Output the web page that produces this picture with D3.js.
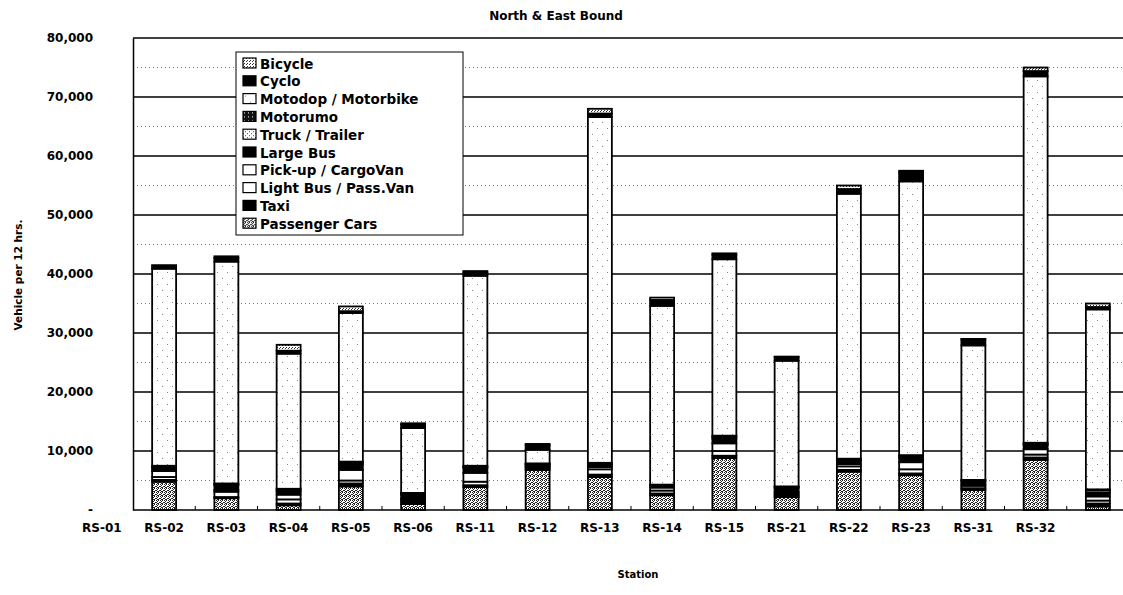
<!DOCTYPE html>
<html>
<head>
<meta charset="utf-8">
<script src="https://cdn.jsdelivr.net/npm/d3@7"></script>
<style>
  body { margin: 0; background: #fff; }
  text { font-family: "DejaVu Sans", Arial, sans-serif; font-weight: bold; fill: #000; }
</style>
</head>
<body>
<svg id="chart" width="1123" height="595"></svg>
<script>
// stations (x categories)
var stations = ["RS-01","RS-02","RS-03","RS-04","RS-05","RS-06","RS-11","RS-12",
                "RS-13","RS-14","RS-15","RS-21","RS-22","RS-23","RS-31","RS-32"];

// vehicle counts per 12 hrs
var passengerCars = [4800, 2000, 800, 4000, 1000, 3900, 6800, 5600, 2500, 8800, 2200, 6500, 5900, 3400, 8500, 600];
var taxi          = [ 300,  200, 300,  500,  400,  300,  300,  400,  300,  400,  300,  300,  300,  300,  400, 500];
var lightBus      = [ 500,  900, 700,  500,  300,  600,  200,  900,  500,  800,  300,  600,  700,  400,  500, 500];
var pickUp        = [1000,  300, 800, 1800,  300, 1500,  200,  400,  500, 1300,  300,  400, 1200,  300,  900, 700];
var largeBus      = [ 400,  800, 500,  900,  600,  800,  200,  300,  300,  800,  600,  500,  700,  400,  700, 600];
var truck         = [ 300,  200, 300,  300,  200,  200,  100,  200,  100,  300,  200,  200,  300,  200,  200, 400];
var motorumo      = [ 200,  100, 200,  200,  100,  200,  100,  200,  100,  200,  100,  200,  200,  100,  200, 200];
var motodop       = [33400, 37600, 22900, 25200, 11000, 32200, 2300, 58600, 30300, 29900, 21300, 44900, 46400, 22800, 62100, 30500];
var cyclo         = [ 400,  600, 500,  300,  600,  600,  800,  600, 1000,  800,  600,  800, 1500, 1000,  900, 400];
var bicycle       = [ 200,  300, 1000, 800,  200,  200,  200,  800,  400,  200,  100,  600,  300,  100,  600, 600];

var yTicks = [0, 10000, 20000, 30000, 40000, 50000, 60000, 70000, 80000];
var yMinor = [5000, 15000, 25000, 35000, 45000, 55000, 65000, 75000];

// bottom-up stacking order
var series = [
  {key: "Passenger Cars",       values: passengerCars, fill: "url(#pPc)"},
  {key: "Taxi",                 values: taxi,          fill: "#000"},
  {key: "Light Bus / Pass.Van", values: lightBus,      fill: "#fff"},
  {key: "Pick-up / CargoVan",   values: pickUp,        fill: "#fff"},
  {key: "Large Bus",            values: largeBus,      fill: "#000"},
  {key: "Truck / Trailer",      values: truck,         fill: "url(#pTruck)"},
  {key: "Motorumo",             values: motorumo,      fill: "url(#pMotorumo)"},
  {key: "Motodop / Motorbike",  values: motodop,       fill: "url(#pMotodop)"},
  {key: "Cyclo",                values: cyclo,         fill: "#000"},
  {key: "Bicycle",              values: bicycle,       fill: "url(#pBicycle)"}
];

var rows = stations.map(function(s, i) {
  var r = {station: s};
  series.forEach(function(d) { r[d.key] = d.values[i]; });
  return r;
});

var svg = d3.select("#chart");
var plotLeft = 133, plotRight = 1129, plotTop = 38, plotBottom = 510;

var x = d3.scaleBand().domain(stations).range([plotLeft, plotRight]).paddingInner(0.615).paddingOuter(0.3075);
var y = d3.scaleLinear().domain([0, 80000]).range([plotBottom, plotTop]);

//****************************PATTERNS***************************************************
var defs = svg.append("defs");
function pattern(id, w, h, bg, col, dots) {
  var p = defs.append("pattern").attr("id", id).attr("patternUnits", "userSpaceOnUse")
    .attr("width", w).attr("height", h);
  p.append("rect").attr("width", w).attr("height", h).attr("fill", bg);
  dots.forEach(function(d) {
    p.append("rect").attr("x", d[0]).attr("y", d[1]).attr("width", 1).attr("height", 1).attr("fill", col);
  });
}
pattern("pPc", 4, 4, "#fff", "#222", [[0,0],[2,0],[1,1],[3,2],[0,2],[2,3],[1,3]]);
pattern("pTruck", 4, 4, "#fff", "#444", [[0,0],[2,2]]);
pattern("pMotorumo", 4, 4, "#111", "#fff", [[1,1]]);
pattern("pMotodop", 10, 12, "#fff", "#888", [[2,2],[7,8]]);
pattern("pBicycle", 3, 3, "#fff", "#333", [[0,0],[1,2]]);

//****************************GRID***************************************************
svg.append("g").selectAll("line").data(yMinor).enter().append("line")
  .attr("x1", plotLeft).attr("x2", plotRight)
  .attr("y1", function(d) { return y(d); }).attr("y2", function(d) { return y(d); })
  .attr("stroke", "#777").attr("stroke-width", 1).attr("stroke-dasharray", "1,3");

svg.append("g").selectAll("line").data(yTicks.slice(1)).enter().append("line")
  .attr("x1", plotLeft).attr("x2", plotRight)
  .attr("y1", function(d) { return y(d); }).attr("y2", function(d) { return y(d); })
  .attr("stroke", "#000").attr("stroke-width", 1.5);

//****************************BARS***************************************************
var stack = d3.stack().keys(series.map(function(d) { return d.key; }));
var layers = stack(rows);

svg.append("g").selectAll("g").data(layers).enter().append("g")
  .attr("fill", function(d, i) { return series[i].fill; })
  .selectAll("rect").data(function(d) { return d; }).enter().append("rect")
  .attr("x", function(d) { return x(d.data.station); })
  .attr("width", x.bandwidth())
  .attr("y", function(d) { return y(d[1]); })
  .attr("height", function(d) { return y(d[0]) - y(d[1]); })
  .attr("stroke", "#000").attr("stroke-width", 1.8);

//****************************AXES***************************************************
var yAxis = d3.axisLeft(y).tickValues(yTicks).tickSize(0).tickPadding(40)
  .tickFormat(function(d) { return d === 0 ? "-" : d3.format(",")(d); });
var yg = svg.append("g").attr("transform", "translate(" + plotLeft + ",0)").call(yAxis);
yg.select(".domain").attr("stroke", "#000").attr("stroke-width", 1.5);
yg.selectAll("text").style("font-size", "12px").style("font-family", "DejaVu Sans").style("font-weight", "bold");

svg.append("line").attr("x1", plotLeft).attr("x2", plotRight).attr("y1", plotBottom).attr("y2", plotBottom)
  .attr("stroke", "#000").attr("stroke-width", 1.5);

// small ticks between stations
var step = x.step();
svg.append("g").selectAll("line").data(stations.slice(1)).enter().append("line")
  .attr("x1", function(d) { return x(d) - (step - x.bandwidth()) / 2; })
  .attr("x2", function(d) { return x(d) - (step - x.bandwidth()) / 2; })
  .attr("y1", plotBottom).attr("y2", plotBottom - 4)
  .attr("stroke", "#000").attr("stroke-width", 1);

// station labels (sit one slot to the left of their bars, as in the source)
svg.append("g").selectAll("text").data(stations).enter().append("text")
  .attr("x", function(d) { return x(d) + x.bandwidth() / 2 - step; })
  .attr("y", 532)
  .attr("text-anchor", "middle")
  .style("font-size", "12px")
  .text(function(d) { return d; });

//****************************TITLES***************************************************
svg.append("text").attr("x", 556).attr("y", 20).attr("text-anchor", "middle")
  .style("font-size", "12px").text("North & East Bound");

svg.append("text").attr("transform", "translate(22,275) rotate(-90)").attr("text-anchor", "middle")
  .style("font-size", "10.5px").text("Vehicle per 12 hrs.");

svg.append("text").attr("x", 638).attr("y", 578).attr("text-anchor", "middle")
  .style("font-size", "10px").text("Station");

//****************************LEGEND***************************************************
var legend = svg.append("g").attr("transform", "translate(236,52)");
legend.append("rect").attr("width", 227).attr("height", 183)
  .attr("fill", "#fff").attr("stroke", "#000").attr("stroke-width", 1);

var legendItems = series.slice().reverse();
var item = legend.selectAll("g.item").data(legendItems).enter().append("g")
  .attr("class", "item")
  .attr("transform", function(d, i) { return "translate(7," + (6 + i * 17.8) + ")"; });
item.append("rect").attr("width", 13).attr("height", 10)
  .attr("fill", function(d) { return d.fill; })
  .attr("stroke", "#000").attr("stroke-width", 1.2);
item.append("text").attr("x", 17).attr("y", 10.5)
  .style("font-size", "13.5px")
  .text(function(d) { return d.key; });
</script>
</body>
</html>
